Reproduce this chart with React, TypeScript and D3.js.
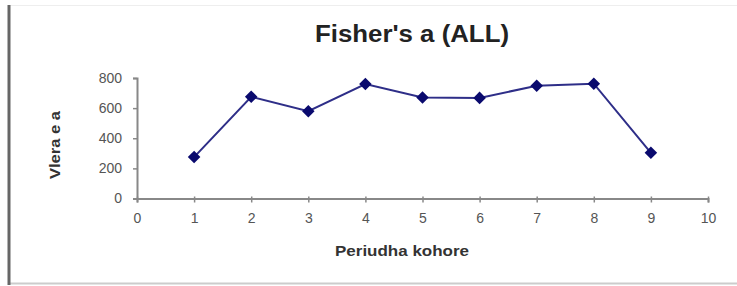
import React, { useEffect, useRef } from 'react';
import * as d3 from 'd3';

// data
const periods = [1, 2, 3, 4, 5, 6, 7, 8, 9];
const values = [275, 675, 580, 760, 670, 668, 748, 762, 303];
const xTicks = [0, 1, 2, 3, 4, 5, 6, 7, 8, 9, 10];
const yTicks = [0, 200, 400, 600, 800];

const W = 737, H = 286;
const FONT = 'Liberation Sans, Arial, sans-serif';

export default function App() {
  const ref = useRef<SVGSVGElement>(null);

  useEffect(() => {
    const svg = d3.select(ref.current);
    svg.selectAll('*').remove();

    const margin = { top: 78, right: 29, bottom: 88, left: 137 };

    // frame
    svg.append('rect').attr('width', W).attr('height', H).attr('fill', '#fff');
    svg.append('line').attr('x1', 9).attr('x2', W).attr('y1', 5.5).attr('y2', 5.5)
      .attr('stroke', '#eee').attr('stroke-width', 1);
    svg.append('line').attr('x1', 9).attr('x2', W).attr('y1', 283.5).attr('y2', 283.5)
      .attr('stroke', '#ccc').attr('stroke-width', 2);
    svg.append('line').attr('x1', 9).attr('x2', 9).attr('y1', 5).attr('y2', 285)
      .attr('stroke', '#666').attr('stroke-width', 3);

    const x = d3.scaleLinear().domain([0, 10]).range([margin.left, W - margin.right]);
    const y = d3.scaleLinear().domain([0, 800]).range([H - margin.bottom + 0.5, margin.top]);

    // x axis
    const gx = svg.append('g')
      .attr('transform', `translate(0,${y(0)})`)
      .call(d3.axisBottom(x).tickValues(xTicks).tickSize(4).tickSizeOuter(4).tickPadding(11));
    gx.select('.domain').attr('stroke', '#888').attr('stroke-width', 2);
    gx.selectAll('.tick line').attr('stroke', '#888').attr('stroke-width', 1.5).attr('y1', -2);
    gx.selectAll('.tick text').attr('fill', '#555').attr('font-size', 14)
      .attr('font-family', FONT);

    // y axis
    const gy = svg.append('g')
      .attr('transform', `translate(${x(0)},0)`)
      .call(d3.axisLeft(y).tickValues(yTicks).tickSize(4).tickSizeOuter(4).tickPadding(11));
    gy.select('.domain').attr('stroke', '#888').attr('stroke-width', 2);
    gy.selectAll('.tick line').attr('stroke', '#888').attr('stroke-width', 1.5);
    gy.selectAll('.tick text').attr('fill', '#555').attr('font-size', 14)
      .attr('font-family', FONT);

    // line
    const pts = periods.map((p, i) => [p, values[i]] as [number, number]);
    svg.append('path')
      .datum(pts)
      .attr('fill', 'none')
      .attr('stroke', '#2e2e88')
      .attr('stroke-width', 2)
      .attr('d', d3.line<[number, number]>().x(d => x(d[0])).y(d => y(d[1])));

    // diamond markers
    svg.append('g').selectAll('path').data(pts).enter().append('path')
      .attr('transform', d => `translate(${x(d[0])},${y(d[1])})`)
      .attr('d', d3.symbol().type(d3.symbolDiamond2).size(100)())
      .attr('fill', '#0a0a6e');

    // titles
    svg.append('text').attr('x', 412).attr('y', 42).attr('text-anchor', 'middle')
      .attr('font-family', FONT).attr('font-weight', 'bold')
      .attr('font-size', 23).attr('textLength', 194).attr('lengthAdjust', 'spacingAndGlyphs')
      .attr('fill', '#222')
      .text("Fisher's a (ALL)");

    svg.append('text').attr('x', 402).attr('y', 256).attr('text-anchor', 'middle')
      .attr('font-family', FONT).attr('font-weight', 'bold')
      .attr('font-size', 14).attr('textLength', 134).attr('lengthAdjust', 'spacingAndGlyphs')
      .attr('fill', '#333')
      .text('Periudha kohore');

    svg.append('text')
      .attr('transform', `translate(60,145) rotate(-90)`)
      .attr('text-anchor', 'middle')
      .attr('font-family', FONT).attr('font-weight', 'bold')
      .attr('font-size', 14).attr('textLength', 68).attr('lengthAdjust', 'spacingAndGlyphs')
      .attr('fill', '#333')
      .text('Vlera e a');
  }, []);

  return (
    <div style={{ position: 'fixed', left: 0, top: 0 }}>
      <svg ref={ref} width={W} height={H} style={{ display: 'block' }} />
    </div>
  );
}
